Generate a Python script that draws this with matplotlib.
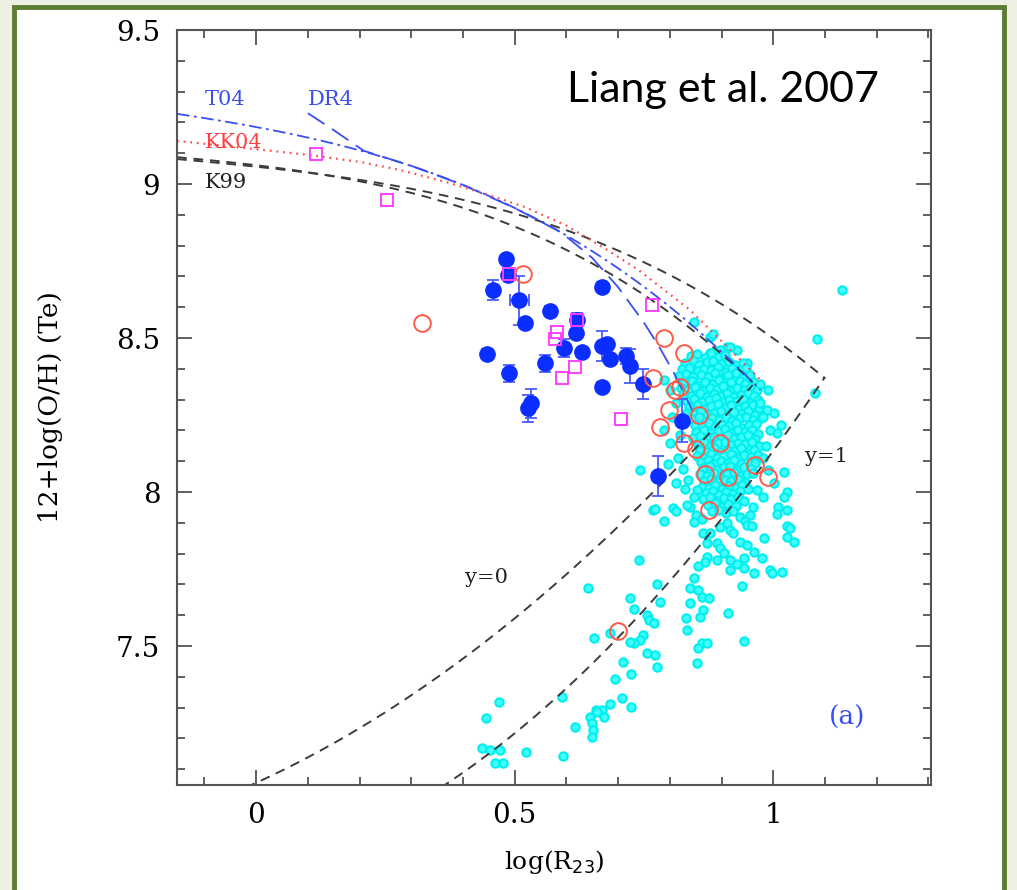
import numpy as np
import matplotlib.pyplot as plt
from matplotlib.patches import Rectangle
from matplotlib.ticker import MultipleLocator

# calibration curves, x = log(R23); polynomial coefficients lowest order first
k99_low_y0 = [7.056, 0.767, 0.602]
k99_low_y1 = [-0.29, -0.332, 0.331]
k99_up_y0 = [9.061, -0.2, -0.237, -0.305, -0.0283]
k99_up_y1 = [-0.0047, 0.0221, 0.102, 0.0817, 0.00717]
t04_coef = [9.185, -0.313, -0.264, -0.321]

# curves
kk04_x = [-0.153, 0.0, 0.10, 0.20, 0.28, 0.37, 0.44, 0.52, 0.60, 0.68, 0.74, 0.79, 0.84, 0.885, 0.93, 0.975]
kk04_y = [9.14, 9.113, 9.095, 9.072, 9.045, 9.005, 8.97, 8.925, 8.865, 8.785, 8.72, 8.655, 8.59, 8.515, 8.44, 8.364]
dr4_x = [0.10, 0.15, 0.208, 0.30, 0.40, 0.50, 0.59, 0.65, 0.70, 0.75, 0.78, 0.81, 0.845]
dr4_y = [9.23, 9.175, 9.108, 9.059, 8.997, 8.922, 8.843, 8.76, 8.665, 8.55, 8.47, 8.38, 8.26]

# Te-based blue sample with error bars
blue_x = [0.484, 0.488, 0.459, 0.509, 0.520, 0.569, 0.669, 0.620, 0.618, 0.596, 0.630, 0.447, 0.559,
          0.489, 0.669, 0.678, 0.685, 0.716, 0.723, 0.669, 0.749, 0.531, 0.525, 0.823, 0.778]
blue_y = [8.756, 8.705, 8.656, 8.623, 8.548, 8.589, 8.667, 8.558, 8.515, 8.467, 8.454, 8.448, 8.418,
          8.385, 8.474, 8.481, 8.432, 8.442, 8.409, 8.342, 8.351, 8.288, 8.272, 8.232, 8.052]
blue_yerr = [0.015, 0.015, 0.032, 0.08, 0.015, 0.015, 0.015, 0.024, 0.015, 0.03, 0.015, 0.015, 0.027,
             0.027, 0.05, 0.015, 0.015, 0.027, 0.054, 0.015, 0.048, 0.046, 0.043, 0.07, 0.065]
blue_xerr = [0, 0, 0, 0.019, 0, 0, 0, 0, 0, 0, 0, 0, 0,
             0, 0, 0, 0, 0, 0, 0, 0, 0, 0, 0, 0]

red_xy = [(0.321, 8.549), (0.516, 8.707), (0.788, 8.499), (0.828, 8.450), (0.767, 8.370), (0.810, 8.331),
          (0.820, 8.340), (0.798, 8.266), (0.781, 8.210), (0.857, 8.250), (0.828, 8.158), (0.850, 8.139),
          (0.897, 8.158), (0.965, 8.088), (0.868, 8.058), (0.912, 8.048), (0.990, 8.048), (0.875, 7.942),
          (0.700, 7.549)]

magenta_xy = [(0.116, 9.096), (0.253, 8.948), (0.489, 8.707), (0.620, 8.558), (0.582, 8.520),
              (0.578, 8.496), (0.616, 8.407), (0.591, 8.369), (0.705, 8.236), (0.765, 8.607)]

cyan_xy = [
    # outliers above the core
    (1.133, 8.656), (1.084, 8.496), (1.081, 8.320), (0.846, 8.553), (0.878, 8.504), (0.883, 8.513),
    (0.910, 8.472), (0.930, 8.461), (0.878, 8.450), (0.917, 8.470), (0.949, 8.418), (0.788, 8.364),
    (0.841, 8.396), (0.888, 8.455), (0.897, 8.460),
    # dense core
    (0.841, 8.441), (0.853, 8.447), (0.868, 8.436), (0.879, 8.450), (0.893, 8.439), (0.907, 8.444),
    (0.829, 8.418), (0.846, 8.425), (0.857, 8.413), (0.871, 8.421), (0.884, 8.427), (0.899, 8.416),
    (0.915, 8.423), (0.926, 8.412), (0.942, 8.419),
    (0.823, 8.398), (0.838, 8.404), (0.855, 8.393), (0.866, 8.401), (0.880, 8.396), (0.893, 8.407),
    (0.909, 8.391), (0.921, 8.402), (0.936, 8.395), (0.948, 8.404),
    (0.818, 8.376), (0.832, 8.384), (0.845, 8.372), (0.861, 8.381), (0.874, 8.374), (0.888, 8.385),
    (0.897, 8.369), (0.913, 8.379), (0.927, 8.386), (0.940, 8.371), (0.955, 8.380),
    (0.827, 8.356), (0.843, 8.362), (0.852, 8.349), (0.868, 8.358), (0.883, 8.352), (0.896, 8.364),
    (0.905, 8.346), (0.919, 8.357), (0.935, 8.361), (0.946, 8.350), (0.961, 8.358),
    (0.821, 8.337), (0.835, 8.331), (0.849, 8.342), (0.864, 8.329), (0.877, 8.339), (0.891, 8.333),
    (0.903, 8.344), (0.917, 8.328), (0.930, 8.338), (0.944, 8.332), (0.957, 8.341), (0.968, 8.330),
    (0.826, 8.317), (0.841, 8.312), (0.858, 8.322), (0.872, 8.309), (0.885, 8.318), (0.898, 8.313),
    (0.910, 8.323), (0.924, 8.308), (0.938, 8.316), (0.951, 8.321), (0.963, 8.311),
    (0.834, 8.296), (0.847, 8.302), (0.862, 8.291), (0.876, 8.299), (0.889, 8.304), (0.902, 8.292),
    (0.915, 8.300), (0.929, 8.295), (0.941, 8.303), (0.955, 8.290), (0.970, 8.298),
    (0.838, 8.276), (0.853, 8.283), (0.867, 8.271), (0.880, 8.279), (0.893, 8.285), (0.906, 8.273),
    (0.919, 8.281), (0.933, 8.270), (0.946, 8.278), (0.960, 8.284), (0.973, 8.272),
    (0.833, 8.258), (0.845, 8.252), (0.860, 8.263), (0.872, 8.249), (0.886, 8.257), (0.898, 8.262),
    (0.912, 8.251), (0.925, 8.259), (0.939, 8.254), (0.952, 8.262), (0.965, 8.250),
    (0.842, 8.236), (0.856, 8.243), (0.869, 8.232), (0.882, 8.240), (0.895, 8.235), (0.908, 8.244),
    (0.921, 8.231), (0.935, 8.239), (0.948, 8.243), (0.961, 8.233), (0.976, 8.241),
    (0.848, 8.218), (0.862, 8.212), (0.875, 8.223), (0.888, 8.210), (0.900, 8.219), (0.914, 8.214),
    (0.927, 8.224), (0.940, 8.209), (0.953, 8.217), (0.967, 8.222),
    (0.851, 8.196), (0.866, 8.203), (0.879, 8.191), (0.893, 8.199), (0.906, 8.204), (0.919, 8.192),
    (0.932, 8.200), (0.945, 8.195), (0.958, 8.203), (0.971, 8.190),
    (0.845, 8.177), (0.858, 8.183), (0.873, 8.172), (0.886, 8.180), (0.899, 8.175), (0.912, 8.184),
    (0.925, 8.171), (0.938, 8.179), (0.952, 8.184), (0.965, 8.173),
    (0.854, 8.156), (0.867, 8.162), (0.880, 8.151), (0.893, 8.159), (0.906, 8.164), (0.918, 8.152),
    (0.932, 8.160), (0.945, 8.155), (0.959, 8.163), (0.972, 8.150),
    (0.859, 8.137), (0.872, 8.131), (0.885, 8.142), (0.898, 8.129), (0.911, 8.138), (0.924, 8.133),
    (0.937, 8.143), (0.950, 8.128), (0.963, 8.136),
    (0.853, 8.118), (0.866, 8.112), (0.879, 8.122), (0.892, 8.109), (0.905, 8.117), (0.918, 8.123),
    (0.931, 8.111), (0.944, 8.119), (0.957, 8.114), (0.970, 8.121),
    (0.860, 8.097), (0.873, 8.103), (0.886, 8.091), (0.899, 8.100), (0.912, 8.094), (0.925, 8.104),
    (0.938, 8.090), (0.951, 8.099), (0.964, 8.095),
    (0.865, 8.077), (0.878, 8.083), (0.891, 8.072), (0.904, 8.080), (0.917, 8.085), (0.930, 8.073),
    (0.943, 8.081), (0.956, 8.076),
    (0.859, 8.058), (0.872, 8.052), (0.885, 8.063), (0.898, 8.050), (0.911, 8.059), (0.924, 8.064),
    (0.937, 8.051), (0.950, 8.057), (0.961, 8.062),
    (0.867, 8.037), (0.880, 8.043), (0.893, 8.032), (0.906, 8.040), (0.919, 8.035), (0.932, 8.044),
    (0.945, 8.031),
    (0.862, 8.018), (0.875, 8.012), (0.888, 8.023), (0.901, 8.010), (0.914, 8.019), (0.927, 8.014),
    (0.940, 8.024), (0.952, 8.011),
    (0.870, 7.997), (0.883, 8.003), (0.896, 7.992), (0.909, 8.000), (0.922, 7.995), (0.935, 8.004),
    (0.865, 7.978), (0.878, 7.983), (0.892, 7.972), (0.905, 7.981), (0.918, 7.976), (0.931, 7.984),
    (0.944, 7.971),
    (0.873, 7.957), (0.887, 7.963), (0.900, 7.952), (0.913, 7.960), (0.927, 7.955),
    (0.881, 7.937), (0.895, 7.943), (0.909, 7.932), (0.922, 7.940),
    # sparse left and right of the core
    (0.801, 8.160), (0.815, 8.112), (0.826, 8.075), (0.812, 8.030), (0.830, 8.010), (0.797, 8.090),
    (0.788, 8.201), (0.805, 8.245), (0.812, 8.290), (0.800, 8.330), (0.743, 8.071), (0.768, 7.942),
    (0.807, 7.947), (0.839, 7.952), (0.852, 8.006), (0.846, 7.985), (0.835, 8.040), (0.820, 8.185),
    (0.975, 8.288), (0.988, 8.266), (1.001, 8.256), (1.014, 8.218), (1.007, 8.191), (0.981, 8.245),
    (0.994, 8.201), (0.985, 8.150), (0.980, 8.110), (0.990, 8.070), (1.001, 8.028), (1.020, 8.066),
    (0.968, 8.006), (0.981, 7.985), (1.026, 8.001), (1.020, 7.985), (1.010, 7.952), (1.026, 7.942),
    (0.960, 7.950), (0.955, 7.925), (0.990, 8.330), (0.975, 8.350),
    (0.850, 7.925), (0.862, 7.912), (0.935, 7.920), (0.945, 7.905),
    # lower tail
    (0.772, 7.945), (0.812, 7.938), (0.788, 7.907), (0.833, 7.958), (0.847, 7.902),
    (0.865, 7.866), (0.878, 7.866), (0.872, 7.833), (0.897, 7.887), (0.910, 7.898), (0.917, 7.877),
    (0.923, 7.866), (0.891, 7.833), (0.897, 7.817), (0.904, 7.801), (0.872, 7.790), (0.891, 7.779),
    (0.868, 7.774), (0.949, 7.893), (0.959, 7.890), (0.936, 7.839), (0.949, 7.828), (0.962, 7.806),
    (0.917, 7.779), (0.930, 7.768), (0.943, 7.785), (0.943, 7.752), (0.917, 7.747), (0.962, 7.736),
    (0.978, 7.785), (0.983, 7.850), (1.007, 7.929), (1.026, 7.890), (1.033, 7.882), (1.026, 7.855),
    (1.041, 7.839), (0.994, 7.747), (0.997, 7.736), (1.017, 7.741), (0.939, 7.695), (0.855, 7.760),
    (0.846, 7.720), (0.839, 7.687), (0.855, 7.682), (0.862, 7.660), (0.875, 7.655), (0.839, 7.641),
    (0.865, 7.617), (0.859, 7.593), (0.832, 7.590), (0.833, 7.552), (0.912, 7.606), (0.944, 7.516),
    (0.862, 7.509), (0.872, 7.511), (0.855, 7.493), (0.852, 7.444), (0.776, 7.703), (0.781, 7.644),
    (0.741, 7.779), (0.722, 7.655), (0.730, 7.619), (0.756, 7.601), (0.759, 7.584), (0.770, 7.576),
    (0.749, 7.536), (0.743, 7.519), (0.730, 7.509), (0.723, 7.514), (0.756, 7.478), (0.772, 7.471),
    (0.710, 7.448), (0.775, 7.433),
    (0.642, 7.687), (0.654, 7.525), (0.685, 7.541), (0.725, 7.409), (0.694, 7.393), (0.591, 7.336),
    (0.685, 7.312), (0.707, 7.330), (0.725, 7.303), (0.657, 7.292), (0.669, 7.294), (0.645, 7.270),
    (0.673, 7.270), (0.649, 7.249), (0.652, 7.227), (0.649, 7.206), (0.659, 7.286), (0.616, 7.238),
    (0.594, 7.144), (0.469, 7.319), (0.444, 7.265), (0.437, 7.168), (0.453, 7.162), (0.472, 7.162),
    (0.462, 7.121), (0.478, 7.119), (0.522, 7.157),
]

W, H = 1017, 890
fig = plt.figure(figsize=(W / 100, H / 100), dpi=100, facecolor='#edf0e2')
# slide frame
fig.patches.append(Rectangle((14 / W, -0.05), (1004 - 14) / W, 1.05 - 7 / H, transform=fig.transFigure,
                             facecolor='white', edgecolor='#5d7b33', linewidth=3.5, zorder=-10))

ax = fig.add_axes([177 / W, 1 - 785 / H, (931 - 177) / W, (785 - 30) / H])
ax.set_zorder(5)
ax.set_xlim(-0.153, 1.305)
ax.set_ylim(7.049, 9.5)

serif = 'DejaVu Serif'
poly = np.polynomial.polynomial.polyval
dash_k = dict(color='#3c3c3c', lw=1.4, ls=(0, (5, 3.5)), zorder=2)

xs = np.linspace(-0.02, 0.96, 200)
ax.plot(xs, poly(xs, k99_low_y0), **dash_k)
xs = np.linspace(0.33, 1.10, 200)
ax.plot(xs, poly(xs, k99_low_y0) + poly(xs, k99_low_y1), **dash_k)
xs = np.linspace(-0.153, 0.96, 200)
ax.plot(xs, poly(xs, k99_up_y0), **dash_k)
xs = np.linspace(-0.153, 1.10, 200)
ax.plot(xs, poly(xs, k99_up_y0) + poly(xs, k99_up_y1), **dash_k)

xs = np.linspace(-0.153, 0.975, 200)
ax.plot(xs, poly(xs, t04_coef), color='#3a4ff0', lw=1.3, ls=(0, (7, 2.5, 1.5, 2.5)), zorder=2)
ax.plot(dr4_x, dr4_y, color='#3a4ff0', lw=1.3, ls=(0, (11, 5)), zorder=2)
ax.plot(kk04_x, kk04_y, color='#ff4a4a', lw=1.6, ls=(0, (0.8, 2.2)), zorder=2)

cx, cy = zip(*cyan_xy)
ax.plot(cx, cy, 'o', ms=6, mfc='#40ffff', mec='#00eeee', mew=1.5, ls='none', zorder=1)

ax.errorbar(blue_x, blue_y, yerr=blue_yerr, xerr=blue_xerr, fmt='o', ms=11, color='#0a2eff',
            ecolor='#4a5cff', elinewidth=1.3, capsize=4, capthick=1.3, zorder=4)

rx, ry = zip(*red_xy)
ax.plot(rx, ry, 'o', ms=12, mfc='none', mec='#ff5a48', mew=1.4, ls='none', zorder=5)
mx, my = zip(*magenta_xy)
ax.plot(mx, my, 's', ms=8.5, mfc='none', mec='#ff40ff', mew=1.4, ls='none', zorder=6)

# labels
ax.text(-0.099, 9.273, 'T04', color='#3a4ff0', fontsize=15, family=serif, va='center')
ax.text(0.100, 9.273, 'DR4', color='#3a4ff0', fontsize=15, family=serif, va='center')
ax.text(-0.099, 9.136, 'KK04', color='#ff4040', fontsize=15, family=serif, va='center')
ax.text(-0.099, 9.006, 'K99', color='#222222', fontsize=15, family=serif, va='center')
ax.text(0.404, 7.721, 'y=0', color='#222222', fontsize=15, family=serif, va='center')
ax.text(1.062, 8.114, 'y=1', color='#222222', fontsize=15, family=serif, va='center')
ax.text(1.108, 7.27, '(a)', color='#3a4ff0', fontsize=19, family=serif, va='center')
ax.text(0.602, 9.305, 'Liang et al. 2007', color='black', fontsize=31, family='Lato', va='center')

ax.set_xlabel(r'log(R$_{23}$)', fontsize=18, family=serif, labelpad=14)
ax.set_ylabel('12+log(O/H) (Te)', fontsize=19, family=serif, labelpad=38)

ax.xaxis.set_major_locator(MultipleLocator(0.5))
ax.xaxis.set_minor_locator(MultipleLocator(0.1))
ax.yaxis.set_major_locator(MultipleLocator(0.5))
ax.yaxis.set_minor_locator(MultipleLocator(0.1))
ax.set_xticks([0, 0.5, 1])
ax.set_xticklabels(['0', '0.5', '1'])
ax.set_yticks([7.5, 8, 8.5, 9, 9.5])
ax.set_yticklabels(['7.5', '8', '8.5', '9', '9.5'])
ax.tick_params(which='both', direction='in', top=True, right=True, width=1.2, color='#444444')
ax.tick_params(which='major', length=11, pad=12, labelsize=20)
ax.tick_params(which='minor', length=5.5)
for lab in ax.get_xticklabels() + ax.get_yticklabels():
    lab.set_family(serif)
for sp in ax.spines.values():
    sp.set_color('#555555')
    sp.set_linewidth(1.5)

fig.savefig('out.png', dpi=100, facecolor=fig.get_facecolor())
